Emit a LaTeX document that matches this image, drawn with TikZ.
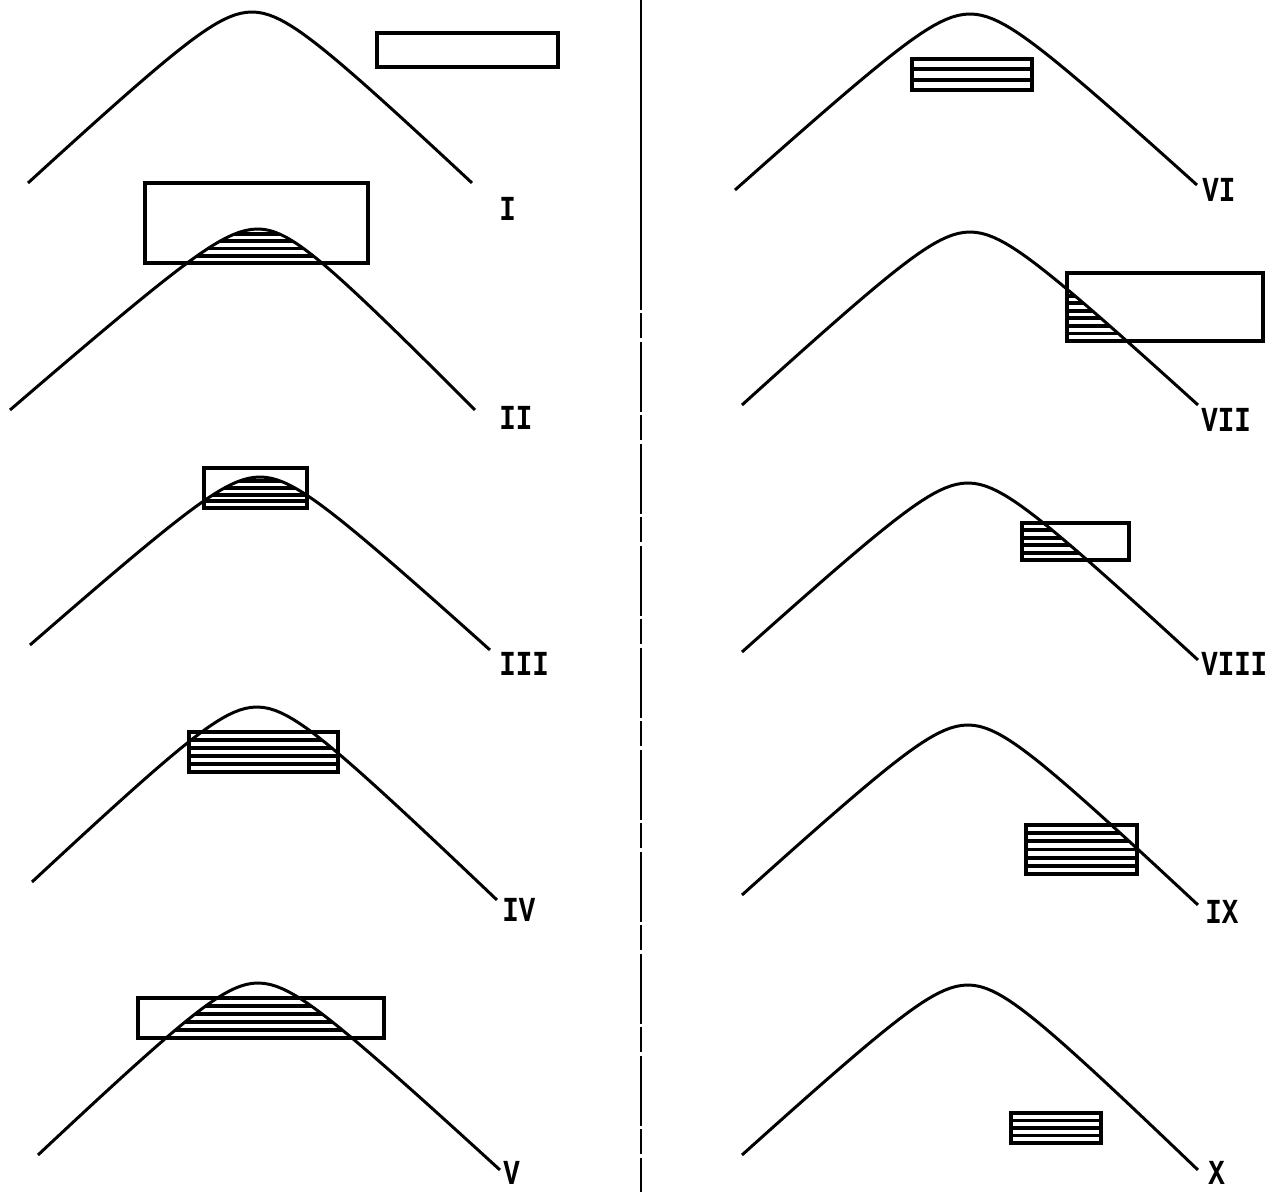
\documentclass[tikz,border=0pt]{standalone}
\usepackage{fontspec}
\setmonofont{Liberation Mono}

% bell curve through left end, peak and right end
% #1 peak x, #2 peak y, #3 left x, #4 left y, #5 right x, #6 right y
\newcommand{\bell}[6]{%
  \pgfmathsetmacro\bellsl{(#4-#2)/bl(#1-#3)}%
  \pgfmathsetmacro\bellsr{(#6-#2)/bl(#5-#1)}%
  \def\bellpath{plot[domain=#3:#1,samples=40] (\x,{#2+\bellsl*bl(\x-#1)})
    -- plot[domain=#1:#5,samples=40] (\x,{#2+\bellsr*bl(\x-#1)})}%
  \def\bellarea{\bellpath -- (#5,12) -- (#3,12) -- cycle}%
}
% horizontal lines in a box, #5 gaps
\newcommand{\hatchlines}[5]{%
  \foreach \k [evaluate=\k as \hy using #2+(#4-#2)*\k/#5] in {1,...,#5}
    \draw[hatch] (#1,\hy) -- (#3,\hy);
}
\newcommand{\numeral}[1]{\scalebox{0.78}[1]{#1}}

\begin{document}
\begin{tikzpicture}[
  x=2cm, y=-2cm,
  declare function={bl(\t)=sqrt(\t*\t+0.2025)-0.45;},
  curve/.style={line width=1.7pt, line join=round},
  box/.style={draw, line width=2.2pt},
  hatch/.style={line width=2.2pt},
  lab/.style={anchor=west, inner sep=0pt, font=\ttfamily\bfseries\fontsize{20}{20}\selectfont},
  sepline/.style={line width=1.5pt}
]
  \useasboundingbox (0,0) rectangle (12.80,11.92);

  % dividing line
  \coordinate (septop) at (6.41,0);
  \coordinate (sepmid) at (6.41,2.40);
  \coordinate (sepbot) at (6.41,11.92);
  \draw[sepline] (septop) -- (sepmid);
  \draw[sepline, dash pattern=on 14mm off 0.6mm on 5mm off 0.8mm] (sepmid) -- (sepbot);

  % I
  \begin{scope}
    \bell{2.52}{0.12}{0.28}{1.83}{4.72}{1.83}
    \draw[curve] \bellpath;
    \draw[box] (3.77,0.33) rectangle (5.58,0.67);
    \node[lab] (lblI) at (4.99,2.09) {\numeral{I}};
  \end{scope}

  % II
  \begin{scope}
    \bell{2.58}{2.29}{0.10}{4.10}{4.75}{4.10}
    \begin{scope}
      \clip (1.45,1.83) rectangle (3.68,2.63);
      \clip \bellarea;
      \hatchlines{1.45}{1.83}{3.68}{2.63}{11}
    \end{scope}
    \draw[curve] \bellpath;
    \draw[box] (1.45,1.83) rectangle (3.68,2.63);
    \node[lab] (lblII) at (4.99,4.18) {\numeral{II}};
  \end{scope}

  % III
  \begin{scope}
    \bell{2.60}{4.77}{0.30}{6.45}{4.90}{6.50}
    \begin{scope}
      \clip (2.04,4.68) rectangle (3.07,5.08);
      \clip \bellarea;
      \hatchlines{2.04}{4.68}{3.07}{5.08}{6}
    \end{scope}
    \draw[curve] \bellpath;
    \draw[box] (2.04,4.68) rectangle (3.07,5.08);
    \node[lab] (lblIII) at (4.99,6.64) {\numeral{III}};
  \end{scope}

  % IV
  \begin{scope}
    \bell{2.57}{7.07}{0.32}{8.82}{4.97}{9.00}
    \begin{scope}
      \clip (1.89,7.32) rectangle (3.38,7.72);
      \clip \bellarea;
      \hatchlines{1.89}{7.32}{3.38}{7.72}{5}
    \end{scope}
    \draw[curve] \bellpath;
    \draw[box] (1.89,7.32) rectangle (3.38,7.72);
    \node[lab] (lblIV) at (5.02,9.10) {\numeral{IV}};
  \end{scope}

  % V
  \begin{scope}
    \bell{2.58}{9.83}{0.38}{11.55}{5.00}{11.70}
    \begin{scope}
      \clip (1.38,9.98) rectangle (3.84,10.38);
      \clip \bellarea;
      \hatchlines{1.38}{9.98}{3.84}{10.38}{5}
    \end{scope}
    \draw[curve] \bellpath;
    \draw[box] (1.38,9.98) rectangle (3.84,10.38);
    \node[lab] (lblV) at (5.03,11.73) {\numeral{V}};
  \end{scope}

  % VI
  \begin{scope}
    \bell{9.70}{0.14}{7.35}{1.90}{11.97}{1.85}
    \begin{scope}
      \clip (9.12,0.59) rectangle (10.32,0.90);
      \clip \bellarea;
      \hatchlines{9.12}{0.59}{10.32}{0.90}{3}
    \end{scope}
    \draw[curve] \bellpath;
    \draw[box] (9.12,0.59) rectangle (10.32,0.90);
    \node[lab] (lblVI) at (12.02,1.90) {\numeral{VI}};
  \end{scope}

  % VII
  \begin{scope}
    \bell{9.70}{2.32}{7.42}{4.05}{11.98}{4.05}
    \begin{scope}
      \clip (10.67,2.73) rectangle (12.63,3.41);
      \clip \bellarea;
      \hatchlines{10.67}{2.73}{12.63}{3.41}{9}
    \end{scope}
    \draw[curve] \bellpath;
    \draw[box] (10.67,2.73) rectangle (12.63,3.41);
    \node[lab] (lblVII) at (12.01,4.20) {\numeral{VII}};
  \end{scope}

  % VIII
  \begin{scope}
    \bell{9.68}{4.83}{7.42}{6.52}{11.98}{6.60}
    \begin{scope}
      \clip (10.22,5.23) rectangle (11.29,5.60);
      \clip \bellarea;
      \hatchlines{10.22}{5.23}{11.29}{5.60}{5}
    \end{scope}
    \draw[curve] \bellpath;
    \draw[box] (10.22,5.23) rectangle (11.29,5.60);
    \node[lab] (lblVIII) at (12.01,6.64) {\numeral{VIII}};
  \end{scope}

  % IX
  \begin{scope}
    \bell{9.68}{7.25}{7.42}{8.95}{11.98}{9.05}
    \begin{scope}
      \clip (10.26,8.25) rectangle (11.37,8.74);
      \clip \bellarea;
      \hatchlines{10.26}{8.25}{11.37}{8.74}{6}
    \end{scope}
    \draw[curve] \bellpath;
    \draw[box] (10.26,8.25) rectangle (11.37,8.74);
    \node[lab] (lblIX) at (12.05,9.12) {\numeral{IX}};
  \end{scope}

  % X
  \begin{scope}
    \bell{9.68}{9.85}{7.42}{11.55}{11.98}{11.70}
    \begin{scope}
      \clip (10.11,11.13) rectangle (11.01,11.43);
      \clip \bellarea;
      \hatchlines{10.11}{11.13}{11.01}{11.43}{4}
    \end{scope}
    \draw[curve] \bellpath;
    \draw[box] (10.11,11.13) rectangle (11.01,11.43);
    \node[lab] (lblX) at (12.08,11.73) {\numeral{X}};
  \end{scope}
\end{tikzpicture}
\end{document}
